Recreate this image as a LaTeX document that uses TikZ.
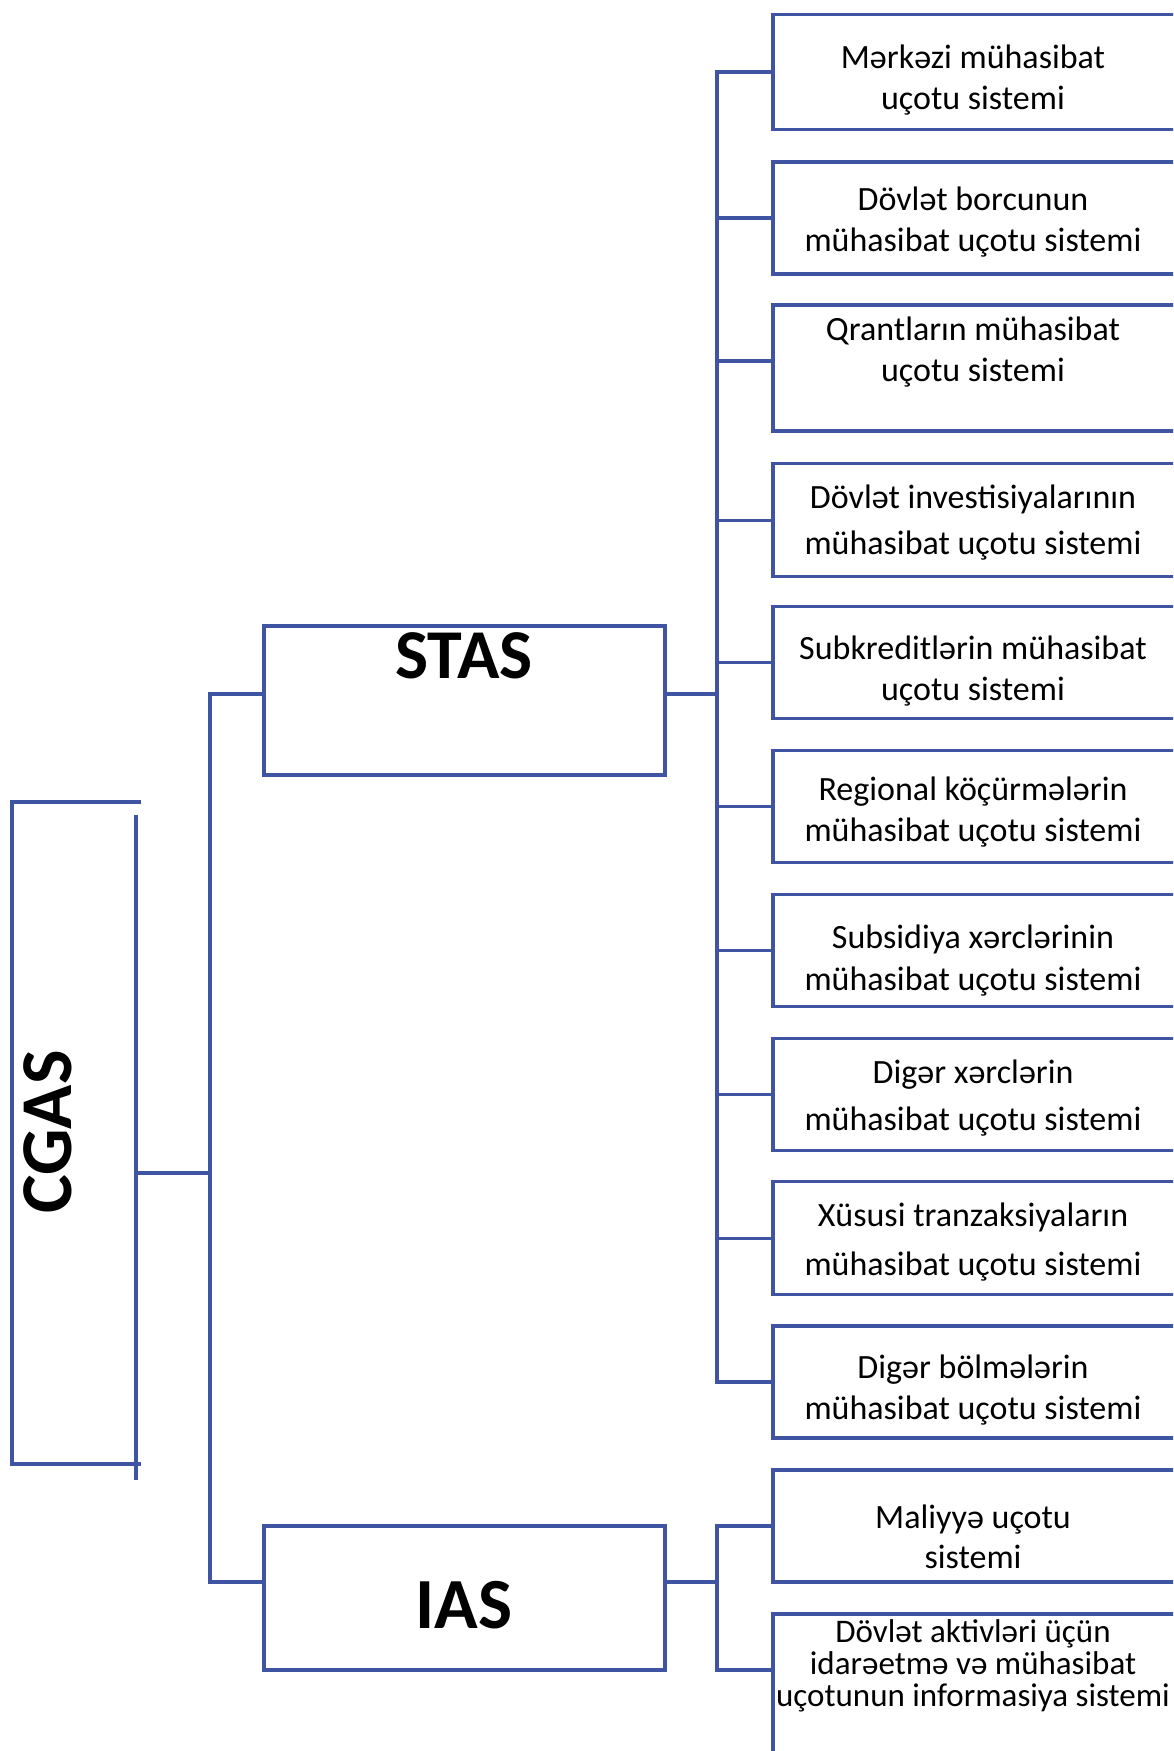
\documentclass[tikz,border=0pt]{standalone}
\usepackage{fontspec}
\setmainfont{Carlito}
\definecolor{lc}{RGB}{63,85,163}
\begin{document}
\begin{tikzpicture}[x=1pt,y=-1pt,
  ln/.style={draw=lc,line width=3.1pt},
  rbox/.style={ln,rectangle,anchor=north west,minimum width=420pt,inner sep=0pt,outer sep=0pt},
  mbox/.style={ln,rectangle,anchor=north west,minimum width=401pt,inner sep=0pt,outer sep=0pt},
  txt/.style={align=center,font=\fontsize{34}{41}\selectfont,inner sep=0pt},
  big/.style={font=\bfseries\fontsize{70}{80}\selectfont,inner sep=0pt}]
\useasboundingbox (0,0) rectangle (1173,1751);
\clip (0,0) rectangle (1173,1751);
\fill[white] (0,0) rectangle (1173,1751);
% CGAS bracket box
\draw[ln] (141,802) -- (12,802) -- (12,1464) -- (141,1464);
\draw[ln] (136,815) -- (136,1480);
\node[big,rotate=90,font=\bfseries\fontsize{73}{80}\selectfont] (cgas) at (47.5,1132) {CGAS};
% middle boxes
\node[mbox,minimum height=149pt] (stas) at (264,626) {};
\node[big,anchor=base] (stast) at (464,678) {STAS};
\node[mbox,minimum height=144pt] (ias) at (264,1526) {};
\node[big,anchor=base,font=\bfseries\fontsize{72}{80}\selectfont] (iast) at (464,1628) {IAS};
% right boxes
\node[rbox,minimum height=115pt] (r1) at (773,14.5) {};
\node[rbox,minimum height=112pt] (r2) at (773,162) {};
\node[rbox,minimum height=126pt] (r3) at (773,305) {};
\node[rbox,minimum height=113pt] (r4) at (773,463.6) {};
\node[rbox,minimum height=112pt] (r5) at (773,606.6) {};
\node[rbox,minimum height=112pt] (r6) at (773,750.7) {};
\node[rbox,minimum height=112pt] (r7) at (773,894.8) {};
\node[rbox,minimum height=112pt] (r8) at (773,1038.9) {};
\node[rbox,minimum height=113pt] (r9) at (773,1181.9) {};
\node[rbox,minimum height=112pt] (r10) at (773,1326) {};
\node[rbox,minimum height=112pt] (r11) at (773,1470) {};
\node[rbox,minimum height=150pt] (r12) at (773,1614) {};
% texts
\node[txt] (t1) at (973,80.5) {Mərkəzi mühasibat\\uçotu sistemi};
\node[txt] (t2) at (973,222.5) {Dövlət borcunun\\mühasibat uçotu sistemi};
\node[txt] (t3) at (973,352) {Qrantların mühasibat\\uçotu sistemi};
\node[txt,font=\fontsize{34}{46}\selectfont] (t4) at (973,523) {Dövlət investisiyalarının\\mühasibat uçotu sistemi};
\node[txt] (t5) at (973,671.5) {Subkreditlərin mühasibat\\uçotu sistemi};
\node[txt] (t6) at (973,812) {Regional köçürmələrin\\mühasibat uçotu sistemi};
\node[txt,font=\fontsize{34}{42}\selectfont] (t7) at (973,961) {Subsidiya xərclərinin\\mühasibat uçotu sistemi};
\node[txt,font=\fontsize{34}{47}\selectfont] (t8) at (973,1098.5) {Digər xərclərin\\mühasibat uçotu sistemi};
\node[txt,font=\fontsize{34}{49}\selectfont] (t9) at (973,1242.5) {Xüsusi tranzaksiyaların\\mühasibat uçotu sistemi};
\node[txt] (t10) at (973,1390) {Digər bölmələrin\\mühasibat uçotu sistemi};
\node[txt,font=\fontsize{34}{40}\selectfont] (t11) at (973,1536.5) {Maliyyə uçotu\\sistemi};
\node[txt,font=\fontsize{33}{32}\selectfont] (t12) at (973,1666) {Dövlət aktivləri üçün\\idarəetmə və mühasibat\\uçotunun informasiya sistemi};
% connectors
\coordinate (cg) at (136,1173);
\coordinate (tr) at (210,1173);
\coordinate (bs) at (717,694);
\coordinate (bi) at (717,1582);
\coordinate (c3) at (717,361);
\coordinate (c12) at (717,1670);
\draw[ln] (cg) -- (tr);
\draw[ln] (tr) |- (bs -| stas.west);
\draw[ln] (tr) |- (bi -| ias.west);
\draw[ln] (bs -| stas.east) -- (bs);
\foreach \r in {r1,r2,r4,r5,r6,r7,r8,r9,r10}{\draw[ln] (bs) |- (\r.west);}
\draw[ln] (bs) |- (c3 -| r3.west);
\draw[ln] (bi -| ias.east) -- (bi);
\draw[ln] (bi) |- (r11.west);
\draw[ln] (bi) |- (c12 -| r12.west);
\end{tikzpicture}
\end{document}
